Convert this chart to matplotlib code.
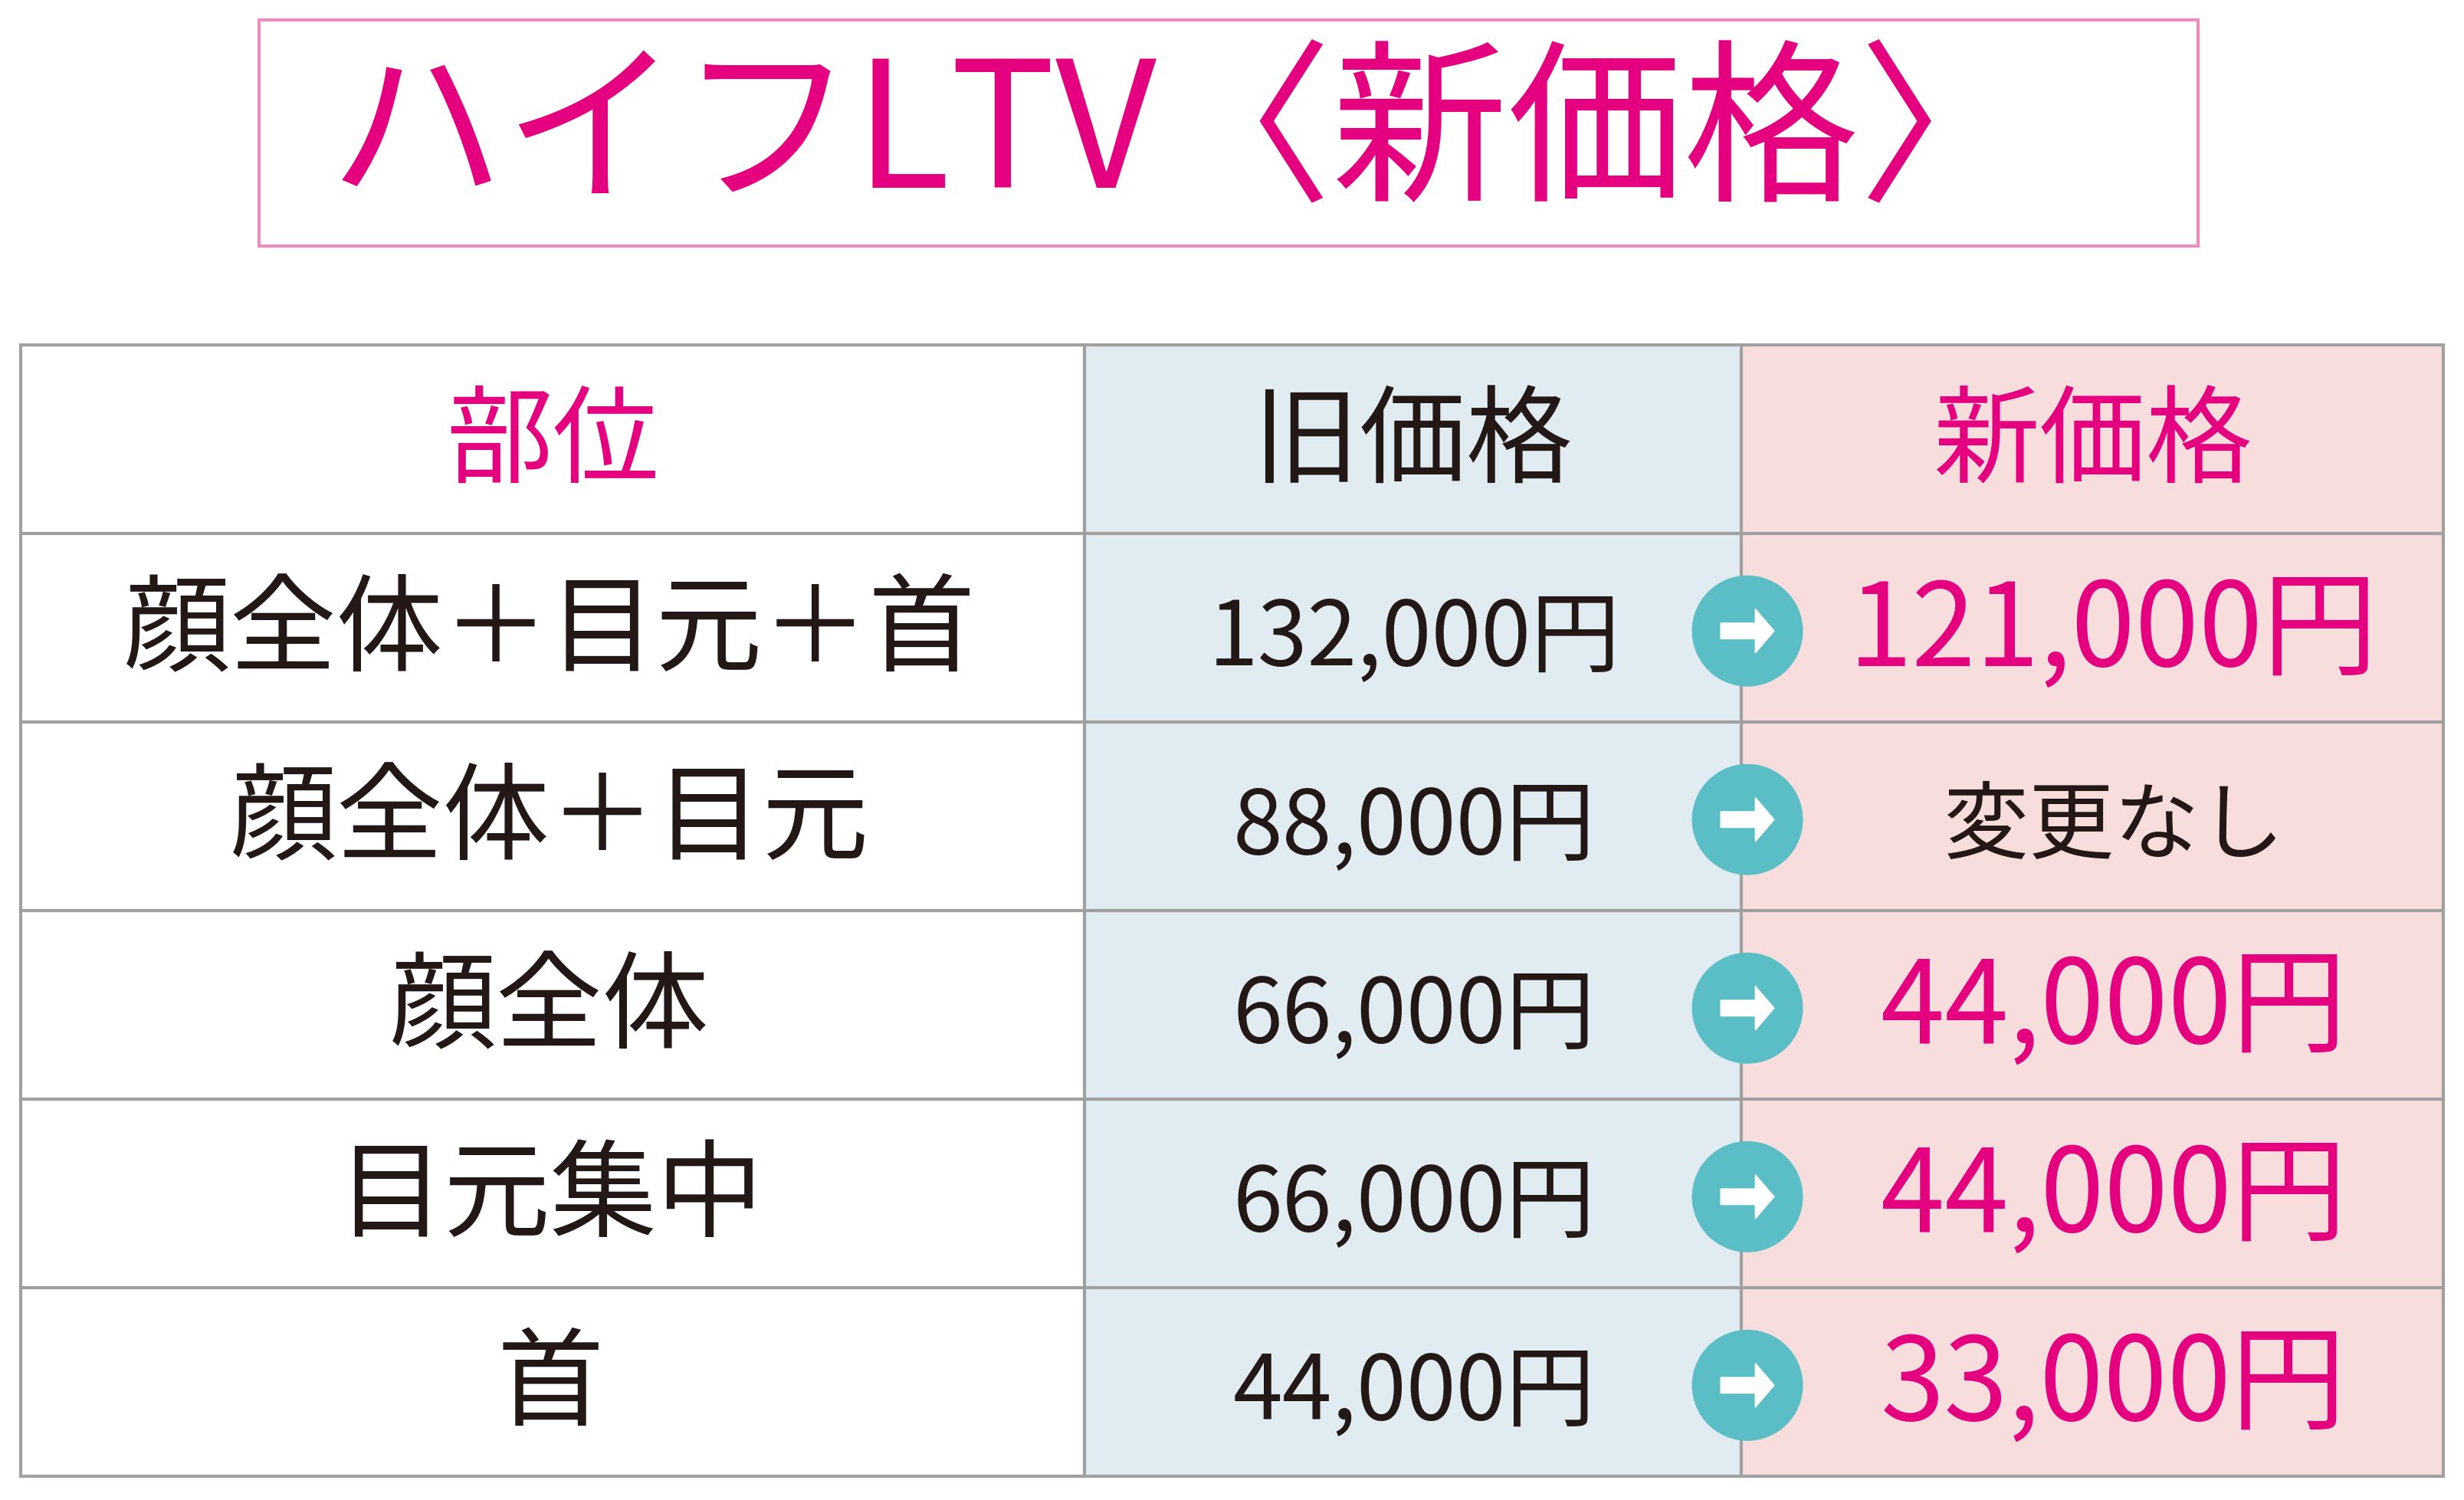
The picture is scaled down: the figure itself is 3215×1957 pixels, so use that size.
import matplotlib
matplotlib.use("Agg")
import matplotlib.pyplot as plt
from matplotlib.patches import Rectangle, Circle, FancyArrow

title = "ハイフLTV〈新価格〉"
headers = ["部位", "旧価格", "新価格"]
parts = ["顔全体＋目元＋首", "顔全体＋目元", "顔全体", "目元集中", "首"]
old_prices = ["132,000円", "88,000円", "66,000円", "66,000円", "44,000円"]
new_prices = ["121,000円", "変更なし", "44,000円", "44,000円", "33,000円"]

PINK = "#e4007f"; DARK = "#231815"; GRID = "#a0a0a0"
FONT = "Noto Sans CJK JP"

fig = plt.figure(figsize=(32.15, 19.58), dpi=100)
ax = fig.add_axes([0, 0, 1, 1])
ax.set_xlim(0, 1568); ax.set_ylim(955, 0); ax.axis("off")

ax.add_patch(Rectangle((165, 13), 1234, 144, fill=False, ec="#ec8cbf", lw=3))
ax.text(752, 88, title, color=PINK, fontsize=165, fontfamily=FONT, ha="center", va="center")

cols = [13, 690, 1108, 1555]
top, hh, rh = 220, 120, 120
nrows = len(parts)
bottom = top + hh + rh * nrows
ax.add_patch(Rectangle((cols[1], top), cols[2]-cols[1], bottom-top, color="#e0ecf2", lw=0))
ax.add_patch(Rectangle((cols[2], top), cols[3]-cols[2], bottom-top, color="#f7dedc", lw=0))
ys = [top, top+hh] + [top+hh+rh*(i+1) for i in range(nrows)]
for y in ys:
    ax.plot([cols[0], cols[3]], [y, y], color=GRID, lw=3)
for x in cols:
    ax.plot([x, x], [top, bottom], color=GRID, lw=3)

hc = [PINK, DARK, PINK]
for j, h in enumerate(headers):
    ax.text((cols[j]+cols[j+1])/2, top+hh/2+3, h, color=hc[j], fontsize=100, fontfamily=FONT, ha="center", va="center")

for i in range(nrows):
    yc = top + hh + rh*i + rh/2
    ax.text(350, yc+3, parts[i], color=DARK, fontsize=100, fontfamily=FONT, ha="center", va="center")
    ax.text(900, yc+7, old_prices[i], color=DARK, fontsize=84, fontfamily=FONT, ha="center", va="center")
    if new_prices[i].endswith("円"):
        ax.text(1345, yc+3, new_prices[i], color=PINK, fontsize=108, fontfamily=FONT, ha="center", va="center")
    else:
        ax.text(1345, yc+7, new_prices[i], color=DARK, fontsize=80, fontfamily=FONT, ha="center", va="center")
    ax.add_patch(Circle((1112, yc+2), 35, color="#5bbec6", zorder=5))
    ax.add_patch(FancyArrow(1095, yc+2, 22, 0, width=10, head_width=28, head_length=12,
                            color="white", zorder=6, length_includes_head=False))

fig.savefig("out.png", dpi=100)
